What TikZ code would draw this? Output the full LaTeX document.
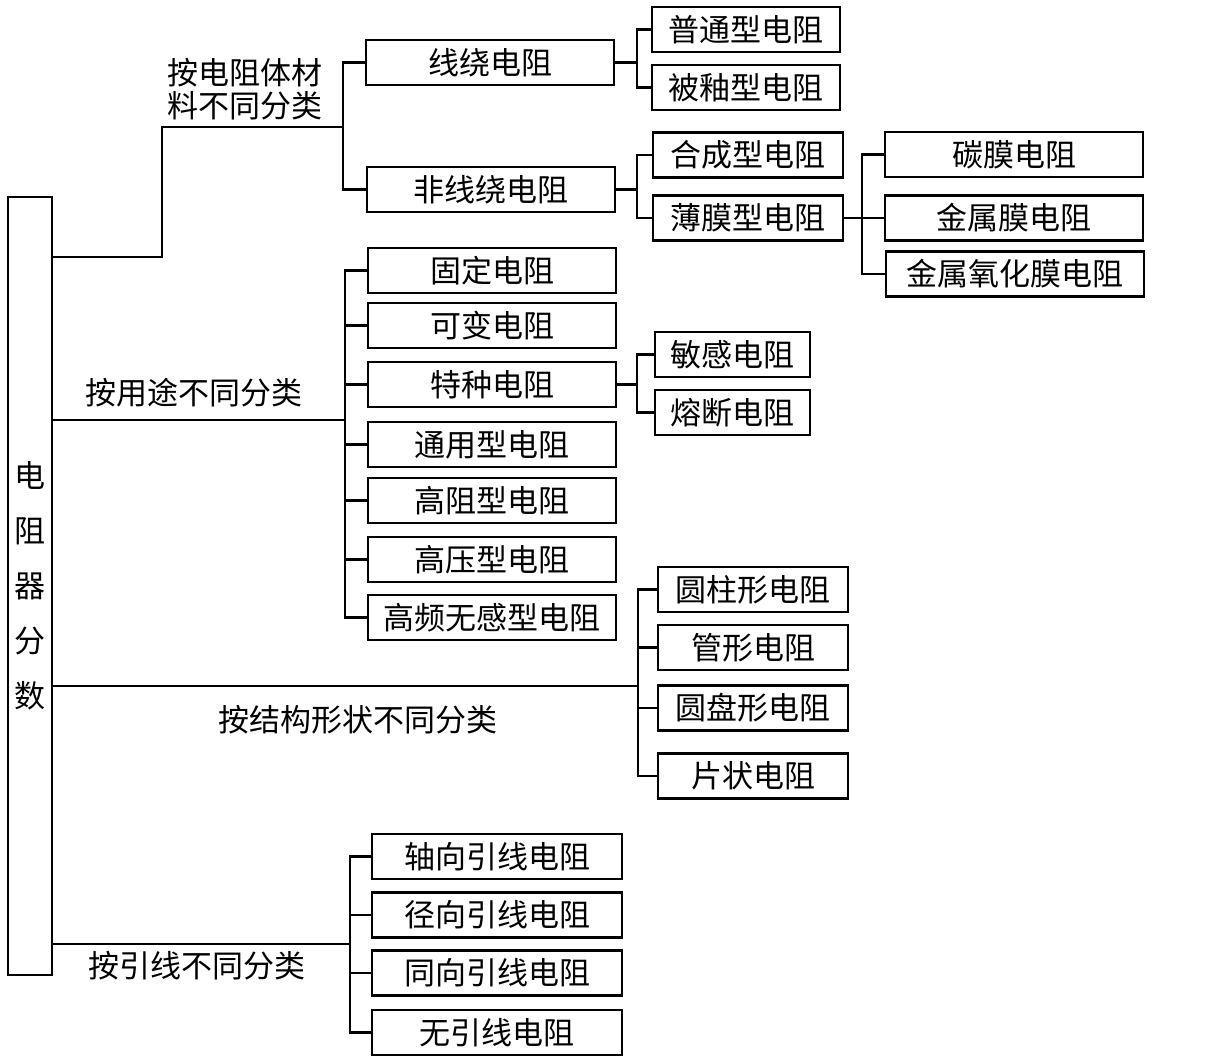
\documentclass[tikz,border=0pt]{standalone}
\usepackage{fontspec}
\newfontfamily\cjk{Noto Sans CJK SC}
\begin{document}
\begin{tikzpicture}[x=0.5pt,y=-0.5pt,
  every node/.style={font=\cjk\fontsize{15.5}{16.5}\selectfont},
  box/.style={draw, line width=1.4pt, minimum height=22.5pt, inner sep=0pt},
  wA/.style={box, minimum width=124pt},
  wB/.style={box, minimum width=94pt},
  wC/.style={box, minimum width=129pt},
  wD/.style={box, minimum width=77.5pt},
  wE/.style={box, minimum width=95pt},
  wF/.style={box, minimum width=125pt},
  conn/.style={line width=1.4pt},
  lbl/.style={inner sep=0pt}]
\useasboundingbox (0,0) rectangle (1206,1061);

% root
\node[draw, line width=1.4pt, minimum width=22pt, minimum height=389pt, inner sep=0pt, align=center,
  font=\cjk\fontsize{15.5}{27.5}\selectfont] (root) at (30,586) {电\\阻\\器\\分\\数};

% branch 1
\node[lbl, align=left] (l1) at (245,89) {按电阻体材\\料不同分类};
\node[wA] (xr) at (490,62.5) {线绕电阻};
\node[wA] (fxr) at (491,189.5) {非线绕电阻};
\node[wB] (pt) at (746,29.5) {普通型电阻};
\node[wB] (by) at (746,87.5) {被釉型电阻};
\node[wE] (hc) at (748,155) {合成型电阻};
\node[wE] (bm) at (748,218) {薄膜型电阻};
\node[wC] (tm) at (1014,154.5) {碳膜电阻};
\node[wC] (jsm) at (1014,218) {金属膜电阻};
\node[wC] (jsy) at (1015,274) {金属氧化膜电阻};

\coordinate (j1) at (343,127);
\draw[conn] (root.east |- 0,257) -| (162,127) -- (j1);
\draw[conn] (xr.west) -| (j1) |- (fxr.west);
\coordinate (j1a) at (637,62.5);
\draw[conn] (xr.east) -- (j1a);
\draw[conn] (pt.west) -| (j1a) |- (by.west);
\coordinate (j1b) at (637,189.5);
\draw[conn] (fxr.east) -- (j1b);
\draw[conn] (hc.west) -| (j1b) |- (bm.west);
\coordinate (j1c) at (862,218);
\draw[conn] (bm.east) -- (j1c);
\draw[conn] (tm.west) -| (j1c) |- (jsy.west);
\draw[conn] (j1c) -- (jsm.west);

% branch 2
\node[lbl] (l2) at (194,393) {按用途不同分类};
\node[wA] (gd) at (492,270.5) {固定电阻};
\node[wA] (kb) at (492,325.5) {可变电阻};
\node[wA] (tz) at (492,384.5) {特种电阻};
\node[wA] (ty) at (492,444.5) {通用型电阻};
\node[wA] (gz) at (492,500.5) {高阻型电阻};
\node[wA] (gy) at (492,559.5) {高压型电阻};
\node[wA] (gp) at (492,617.5) {高频无感型电阻};
\node[wD] (mg) at (732.5,354.5) {敏感电阻};
\node[wD] (rd) at (732.5,412.5) {熔断电阻};
\coordinate (j2) at (345,420);
\draw[conn] (root.east |- j2) -- (j2);
\draw[conn] (gd.west) -| (j2) |- (gp.west);
\foreach \n in {kb,tz,ty,gz,gy} \draw[conn] (j2 |- \n.west) -- (\n.west);
\coordinate (j2a) at (637,384.5);
\draw[conn] (tz.east) -- (j2a);
\draw[conn] (mg.west) -| (j2a) |- (rd.west);

% branch 3
\node[lbl] (l3) at (358,720) {按结构形状不同分类};
\node[wE] (yz) at (753,589.5) {圆柱形电阻};
\node[wE] (gx) at (753,647.5) {管形电阻};
\node[wE] (yp) at (753,708) {圆盘形电阻};
\node[wE] (pz) at (753,776) {片状电阻};
\coordinate (j3) at (638,686);
\draw[conn] (root.east |- j3) -- (j3);
\draw[conn] (yz.west) -| (j3) |- (pz.west);
\foreach \n in {gx,yp} \draw[conn] (j3 |- \n.west) -- (\n.west);

% branch 4
\node[lbl] (l4) at (197,966) {按引线不同分类};
\node[wF] (zx) at (497,856.5) {轴向引线电阻};
\node[wF] (jx) at (497,915) {径向引线电阻};
\node[wF] (tx) at (497,973) {同向引线电阻};
\node[wF] (wy) at (497,1032.5) {无引线电阻};
\coordinate (j4) at (350,944);
\draw[conn] (root.east |- j4) -- (j4);
\draw[conn] (zx.west) -| (j4) |- (wy.west);
\foreach \n in {jx,tx} \draw[conn] (j4 |- \n.west) -- (\n.west);
\end{tikzpicture}
\end{document}
